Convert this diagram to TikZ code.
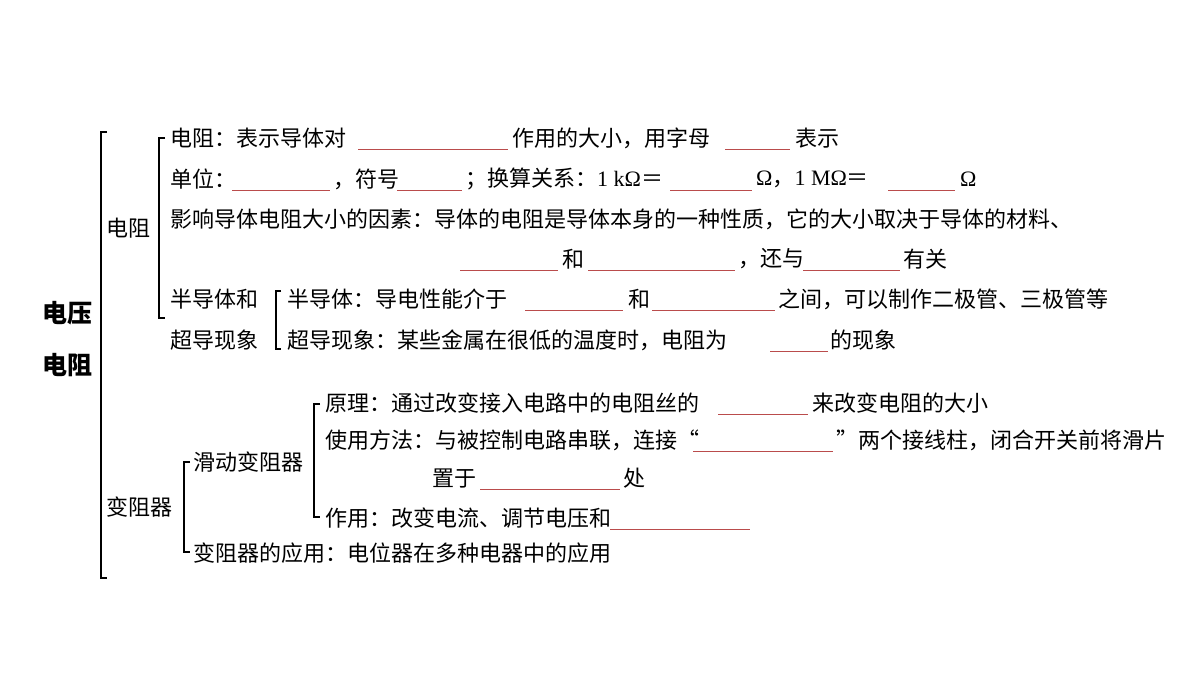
\documentclass[tikz,border=0pt]{standalone}
\usepackage{fontspec}
\setmainfont{Noto Sans CJK SC}
\newfontfamily\romfont{Liberation Serif}
\tikzset{
  txt/.style={anchor=west,inner sep=0pt,font=\fontsize{22}{26}\selectfont},
  head/.style={inner sep=0pt,font=\fontsize{25}{30}\selectfont\bfseries},
  blank/.style={draw=red!55!black!60!pink,line width=0.8pt},
  brace/.style={draw=black,line width=1.3pt}
}
\newcommand{\brk}[4]{\draw[brace] (#1+#4,#2) -- (#1,#2) -- (#1,#3) -- (#1+#4,#3);}
\newcommand{\gap}[3]{\draw[blank] (#1,#3+11) -- (#2,#3+11);}
\begin{document}
\begin{tikzpicture}[x=1pt,y=-1pt]
\useasboundingbox (0,0) rectangle (1200,675);
% main bracket
\brk{101}{132}{578}{6}
\node[head] (title1) at (67,313) {电压};
\node[head] (title2) at (67,365) {电阻};
% resistance
\brk{159}{138}{318}{6}
\node[txt] (res) at (106,228) {电阻};
\node[txt] (r1) at (170,138) {电阻：表示导体对};
\gap{358}{508}{138}
\node[txt] (r1b) at (512,138) {作用的大小，用字母};
\gap{725}{790}{138}
\node[txt] (r1c) at (795,138) {表示};
\node[txt] (r2) at (170,179) {单位：};
\gap{232}{330}{179}
\node[txt] (r2b) at (333,179) {，符号};
\gap{397}{462}{179}
\node[txt] (r2c) at (465,179) {；换算关系：{\romfont 1 kΩ}＝};
\gap{670}{752}{179}
\node[txt] (r2d) at (756,179) {{\romfont Ω}，{\romfont 1 MΩ}＝};
\gap{888}{955}{179}
\node[txt] (r2e) at (960,179) {\romfont Ω};
\node[txt] (r3) at (170,219) {影响导体电阻大小的因素：导体的电阻是导体本身的一种性质，它的大小取决于导体的材料、};
\gap{460}{558}{259}
\node[txt] (r4) at (562,259) {和};
\gap{588}{735}{259}
\node[txt] (r4b) at (738,259) {，还与};
\gap{803}{900}{259}
\node[txt] (r4c) at (903,259) {有关};
% semiconductor
\node[txt] (semi) at (170,299) {半导体和};
\node[txt] (supr) at (170,340) {超导现象};
\brk{276}{291}{349}{5}
\node[txt] (s1) at (287,299) {半导体：导电性能介于};
\gap{525}{623}{299}
\node[txt] (s1b) at (628,299) {和};
\gap{652}{775}{299}
\node[txt] (s1c) at (778,299) {之间，可以制作二极管、三极管等};
\node[txt] (s2) at (287,340) {超导现象：某些金属在很低的温度时，电阻为};
\gap{770}{828}{340}
\node[txt] (s2b) at (830,340) {的现象};
% rheostat
\node[txt] (rh) at (106,507) {变阻器};
\brk{184}{462}{552}{6}
\node[txt] (slide) at (193,462) {滑动变阻器};
\brk{314}{404}{517}{6}
\node[txt] (p1) at (325,403) {原理：通过改变接入电路中的电阻丝的};
\gap{718}{808}{403}
\node[txt] (p1b) at (812,403) {来改变电阻的大小};
\node[txt] (p2) at (325,440) {使用方法：与被控制电路串联，连接“};
\gap{693}{833}{440}
\node[txt] (p2b) at (836,440) {”两个接线柱，闭合开关前将滑片};
\node[txt] (p3) at (432,478) {置于};
\gap{480}{620}{478}
\node[txt] (p3b) at (623,478) {处};
\node[txt] (p4) at (325,518) {作用：改变电流、调节电压和};
\gap{610}{750}{518}
\node[txt] (app) at (193,553) {变阻器的应用：电位器在多种电器中的应用};
\end{tikzpicture}
\end{document}
